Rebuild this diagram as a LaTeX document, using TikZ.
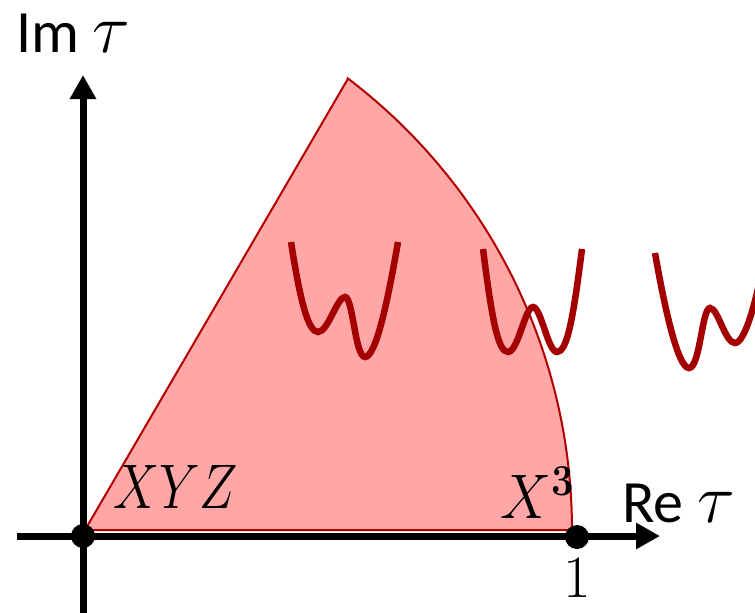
\RequirePackage{fix-cm}
\documentclass[tikz,border=0pt]{standalone}
\usepackage[no-math]{fontspec}
\newfontfamily\calib{Carlito}
\usetikzlibrary{arrows.meta}
\definecolor{regionfill}{RGB}{255,166,166}
\definecolor{regionedge}{RGB}{180,0,0}
\definecolor{wellred}{RGB}{165,0,0}
\tikzset{
  axisline/.style={line width=7pt, -{Triangle[length=24pt,width=25pt]}},
  wellcurve/.style={wellred, line width=6.5pt},
  dotnode/.style={circle, fill=black, inner sep=0pt, minimum size=24pt},
  lbl/.style={inner sep=0pt, font=\fontsize{60}{60}\selectfont},
}
\newcommand{\bigtau}{{\fontsize{70}{70}\selectfont$\tau$}}
\begin{document}
\begin{tikzpicture}[x=1pt,y=-1pt]
\clip (0,0) rectangle (755,613);
% region
\coordinate (O) at (85,530);
\coordinate (apex) at (347.8,79);
\fill[regionfill, draw=regionedge, line width=2pt, line join=miter]
  (O) -- (apex) -- plot[domain=-52.8:0, samples=80] ({5+567*cos(\x)},{530+567*sin(\x)}) -- cycle;
% wells
\draw[wellcurve] (291,242) .. controls (300,300) and (308,332) .. (318,332)
  .. controls (328,332) and (337,297) .. (345,297)
  .. controls (353,297) and (355,357) .. (365,357)
  .. controls (376,357) and (388,300) .. (398,242);
\draw[wellcurve] (483,249) .. controls (492,320) and (498,352) .. (508,352)
  .. controls (518,352) and (525,307) .. (533,307)
  .. controls (541,307) and (548,352) .. (557,352)
  .. controls (567,352) and (573,320) .. (582,249);
\draw[wellcurve] (655,253) .. controls (665,310) and (678,368) .. (689,368)
  .. controls (700,368) and (702,308) .. (710,308)
  .. controls (718,308) and (725,343) .. (735,343)
  .. controls (745,343) and (757,300) .. (765,253);
% axes
\coordinate (xs) at (17,536);
\coordinate (xe) at (660,536);
\coordinate (ys) at (83,613);
\coordinate (ye) at (83,75);
\draw[axisline] (xs) -- (xe);
\draw[axisline] (ys) -- (ye);
\node[dotnode] (o) at (83,536) {};
\node[dotnode] (one) at (577,537) {};
% labels
\node[lbl, anchor=base west] (im) at (16,52) {\calib Im \bigtau};
\node[lbl, anchor=base west] (re) at (622,522) {\calib Re \bigtau};
\node[lbl, anchor=base west] (xyz) at (113,508) {\scalebox{0.86}[1.05]{$XYZ$}};
\node[lbl, anchor=base west] (x3) at (500,518) {\scalebox{0.95}[1.05]{$X^{\mathbf{3}}$}};
\node[lbl, anchor=base] (onelbl) at (577,597) {$1$};
\end{tikzpicture}
\end{document}
